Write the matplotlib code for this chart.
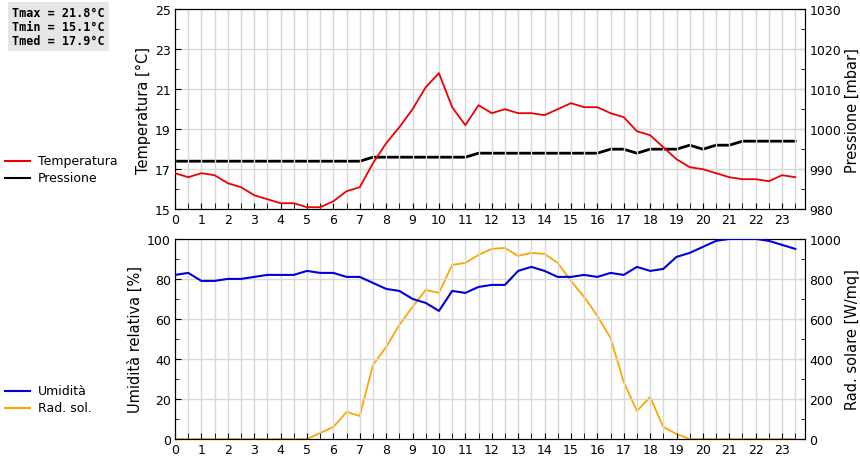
import matplotlib
matplotlib.use("Agg")
import matplotlib.pyplot as plt
import numpy as np
from matplotlib.ticker import MultipleLocator
from matplotlib.lines import Line2D

hours = [i * 0.5 for i in range(48)]
temperatura = [16.8, 16.6, 16.8, 16.7, 16.3, 16.1, 15.7, 15.5, 15.3, 15.3, 15.1, 15.1,
               15.4, 15.9, 16.1, 17.3, 18.3, 19.1, 20.0, 21.1, 21.8, 20.1, 19.2, 20.2,
               19.8, 20.0, 19.8, 19.8, 19.7, 20.0, 20.3, 20.1, 20.1, 19.8, 19.6, 18.9,
               18.7, 18.1, 17.5, 17.1, 17.0, 16.8, 16.6, 16.5, 16.5, 16.4, 16.7, 16.6]
pressione = [992] * 15 + [993] * 8 + [994] * 10 + [995, 995, 994, 995, 995, 995, 996, 995,
             996, 996, 997, 997, 997, 997, 997]
umidita = [82, 83, 79, 79, 80, 80, 81, 82, 82, 82, 84, 83, 83, 81, 81, 78, 75, 74, 70, 68,
           64, 74, 73, 76, 77, 77, 84, 86, 84, 81, 81, 82, 81, 83, 82, 86, 84, 85, 91, 93,
           96, 99, 100, 100, 100, 99, 97, 95]
radiazione = [0] * 11 + [30, 60, 135, 115, 370, 460, 570, 660, 745, 730, 870, 880, 920,
              950, 955, 915, 930, 925, 880, 790, 710, 615, 505, 285, 140, 210, 60, 25] + [0] * 9
xticks = list(range(24))
stats = "Tmax = 21.8°C\nTmin = 15.1°C\nTmed = 17.9°C"

fig = plt.figure(figsize=(8.6, 4.6), dpi=100)
W = 0.7326
ax1 = fig.add_axes([0.2035, 0.543, W, 0.435])
ax3 = fig.add_axes([0.2035, 0.0435, W, 0.435])
ax2 = ax1.twinx()
ax4 = ax3.twinx()

fs = 9
lfs = 10.5
for ax in (ax1, ax3):
    ax.set_xlim(0, 23.87)
    ax.set_xticks(xticks)
    ax.xaxis.set_minor_locator(MultipleLocator(0.5))
    ax.grid(True, which='both', axis='x', color='#d8d8d8', lw=1)
    ax.grid(True, which='major', axis='y', color='#d8d8d8', lw=1)
    ax.set_axisbelow(True)
for ax in (ax1, ax2, ax3, ax4):
    ax.tick_params(direction='in', which='both', labelsize=fs, length=4, pad=3)
    ax.tick_params(which='minor', length=3)
    ax.tick_params(axis='x', which='minor', length=4)
    for s in ax.spines.values():
        s.set_color('black')

ax1.plot(hours, temperatura, color='#ee0000', lw=1.3, zorder=3)
ax2.plot(hours, pressione, color='black', lw=2, zorder=2)
ax1.set_zorder(ax2.get_zorder() + 1); ax1.patch.set_visible(False)
ax1.set_ylim(15, 25); ax1.set_yticks([15, 17, 19, 21, 23, 25])
ax1.yaxis.set_minor_locator(MultipleLocator(1))
ax2.set_ylim(980, 1030); ax2.set_yticks(range(980, 1031, 10))
ax2.yaxis.set_minor_locator(MultipleLocator(5))
ax1.set_ylabel("Temperatura [°C]", fontsize=lfs, labelpad=3)
ax2.set_ylabel("Pressione [mbar]", fontsize=lfs, labelpad=3)

ax3.plot(hours, umidita, color='#0000dd', lw=1.5, zorder=3)
ax4.plot(hours, radiazione, color='#ffa500', lw=1.3, zorder=2)
ax3.set_zorder(ax4.get_zorder() + 1); ax3.patch.set_visible(False)
ax3.set_ylim(0, 100); ax3.set_yticks(range(0, 101, 20))
ax3.yaxis.set_minor_locator(MultipleLocator(10))
ax4.set_ylim(0, 1000); ax4.set_yticks(range(0, 1001, 200))
ax4.yaxis.set_minor_locator(MultipleLocator(100))
ax3.set_ylabel("Umidità relativa [%]", fontsize=lfs, labelpad=3)
ax4.set_ylabel("Rad. solare [W/mq]", fontsize=lfs, labelpad=3)

def legend_item(y, color, label):
    fig.add_artist(Line2D([5/860, 30/860], [1 - y/460] * 2, color=color, lw=1.5))
    fig.text(38/860, 1 - y/460, label, fontsize=fs, va='center')

legend_item(162, '#ee0000', "Temperatura")
legend_item(179, 'black', "Pressione")
legend_item(392, '#0000dd', "Umidità")
legend_item(409, '#ffa500', "Rad. sol.")

fig.text(12/860, 1 - 7/460, stats, family='DejaVu Sans Mono', fontsize=8.5, weight='bold',
         va='top', linespacing=1.1,
         bbox=dict(facecolor='#e6e6e6', edgecolor='none', pad=3))

fig.savefig("out.png", dpi=100)
